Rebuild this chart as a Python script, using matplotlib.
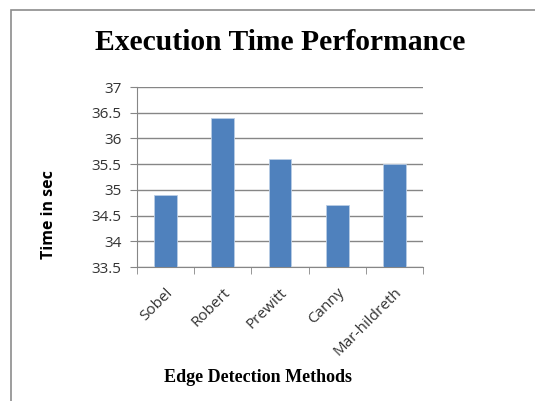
import matplotlib
matplotlib.use("Agg")
import matplotlib.pyplot as plt
from matplotlib.patches import Rectangle

methods = ["Sobel", "Robert", "Prewitt", "Canny", "Mar-hildreth"]
times = [34.9, 36.4, 35.6, 34.7, 35.5]
yticks = [33.5, 34, 34.5, 35, 35.5, 36, 36.5, 37]
ytick_labels = ["33.5", "34", "34.5", "35", "35.5", "36", "36.5", "37"]

W, H = 535, 401
fig = plt.figure(figsize=(W / 100, H / 100), dpi=100)
fig.patch.set_facecolor("white")

# chart frame
fig.add_artist(Rectangle((11 / W, -0.01), 1.1, (H - 10) / H + 0.01,
                         transform=fig.transFigure, fill=False,
                         edgecolor="#8c8c8c", linewidth=1.2))

ax = fig.add_axes([137 / W, 1 - 267 / H, (423 - 137) / W, (267 - 87) / H])
x = range(len(methods))
ax.bar(x, times, width=0.4, color="#4f81bd", edgecolor="#b9cde5",
       linewidth=0.6, zorder=3)
ax.set_xlim(-0.5, len(methods) - 0.5)
ax.set_ylim(33.5, 37)
ax.set_yticks(yticks)
ax.set_yticklabels(ytick_labels, fontsize=11, color="#333333",
                   family="Open Sans")
ax.yaxis.grid(True, color="#868686", linewidth=1.0, zorder=0)
ax.set_axisbelow(True)

# category separators as tick marks
ax.set_xticks([i - 0.5 for i in range(len(methods) + 1)], minor=True)
ax.set_xticks(list(x))
ax.set_xticklabels(methods, rotation=45, ha="right", rotation_mode="anchor",
                   fontsize=11, color="#333333", family="Open Sans")
ax.tick_params(axis="x", which="major", length=0, pad=13)
ax.tick_params(axis="x", which="minor", length=5, color="#868686")
ax.tick_params(axis="y", length=5, color="#868686", pad=6)

for s in ["top", "right"]:
    ax.spines[s].set_visible(False)
ax.spines["left"].set_color("#868686")
ax.spines["bottom"].set_color("#868686")

fig.text(280 / W, 1 - 42 / H, "Execution Time Performance",
         ha="center", va="center", fontsize=21.3, fontweight="bold",
         family="Liberation Serif")
fig.text(49 / W, 1 - 215 / H, "Time in sec", rotation=90,
         ha="center", va="center", fontsize=11.5, fontweight="bold",
         family="Open Sans")
fig.text(258 / W, 1 - 378 / H, "Edge Detection Methods",
         ha="center", va="center", fontsize=13, fontweight="bold",
         family="Liberation Serif")

fig.savefig("out.png", dpi=100)
